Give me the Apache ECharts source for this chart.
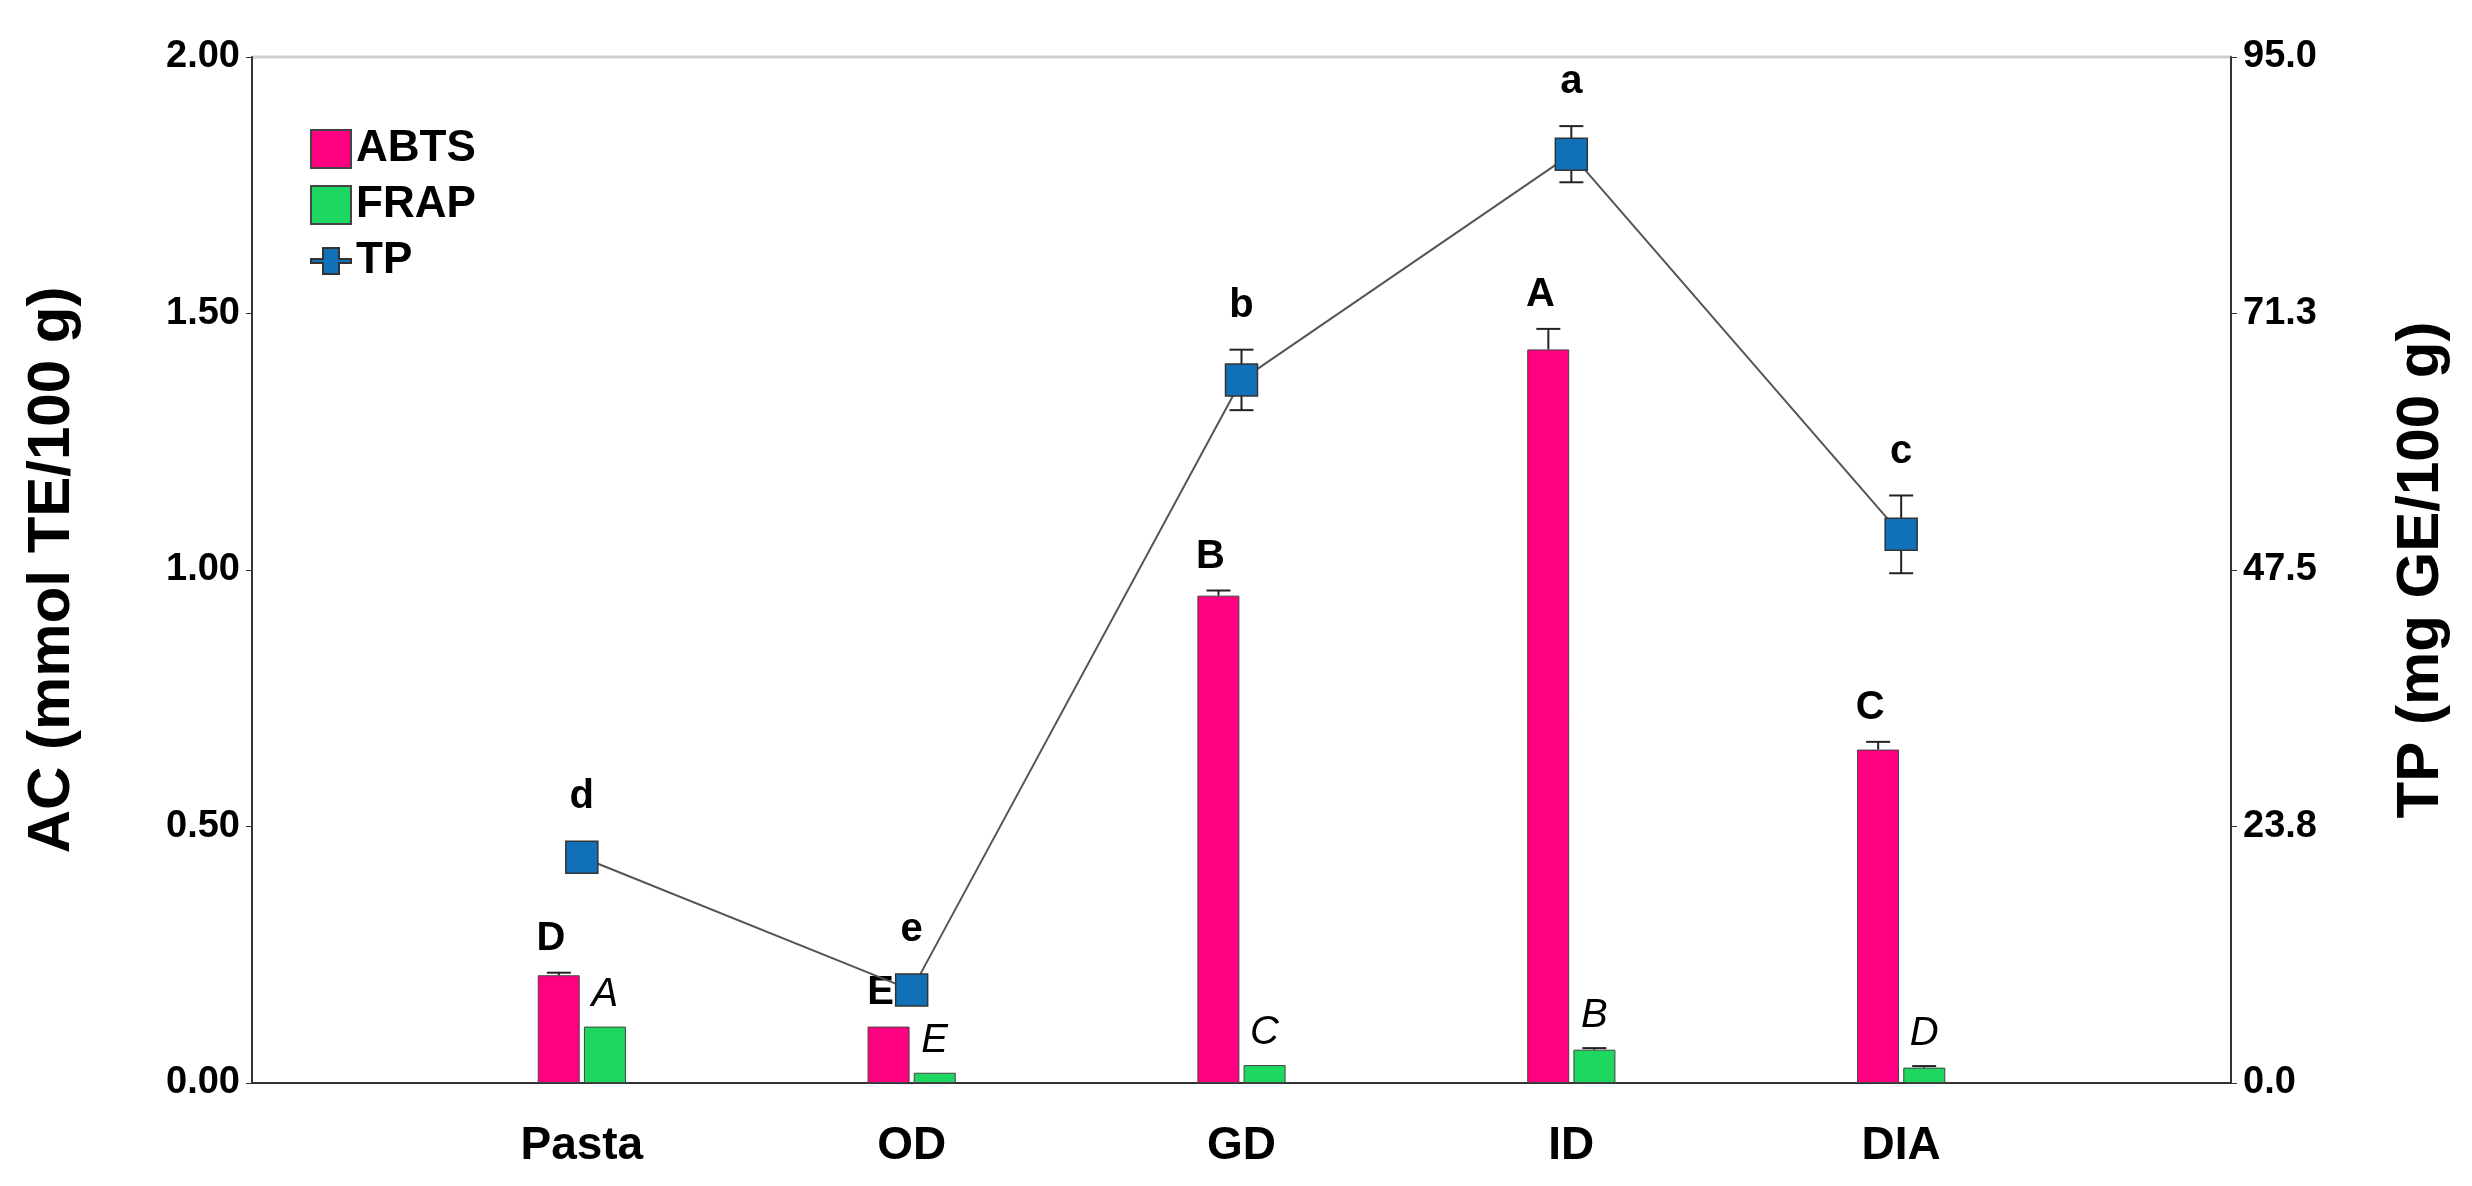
<!DOCTYPE html>
<html><head><meta charset="utf-8">
<script src="https://cdn.jsdelivr.net/npm/echarts@6/dist/echarts.min.js"></script>
<style>html,body{margin:0;padding:0;background:#fff}#c{width:2472px;height:1186px}</style>
</head><body><div id="c"></div>
<script>
const categories = ['Pasta', 'OD', 'GD', 'ID', 'DIA'];
const abts = [0.21, 0.11, 0.95, 1.43, 0.65];
const abtsErr = [0.005, 0.0, 0.01, 0.04, 0.015];
const abtsLetters = ['D', 'E', 'B', 'A', 'C'];
const frap = [0.11, 0.02, 0.035, 0.065, 0.03];
const frapErr = [0.0, 0.0, 0.0, 0.003, 0.003];
const frapLetters = ['A', 'E', 'C', 'B', 'D'];
const tp = [20.9, 8.6, 65.1, 86.0, 50.8];
const tpErr = [0.6, 0.6, 2.8, 2.6, 3.6];
const tpLetters = ['d', 'e', 'b', 'a', 'c'];
const rightMax = 95;

const cats = [''].concat(categories, ['']);
const pad = a => ['-'].concat(a, ['-']);
const F = 'Arial, "Liberation Sans", sans-serif';

function errSeries(vals, errs, letters, axisIdx, dx, italic, bold, gapAbove, ldx) {
  const data = vals.map((v, i) => [i + 1, v, errs[i], letters[i]]);
  return {
    type: 'custom', yAxisIndex: axisIdx, z: 10, silent: true,
    data: data,
    renderItem: function (params, api) {
      const x = api.value(0), v = api.value(1), e = api.value(2);
      const p = api.coord([x, v]);
      const hi = api.coord([x, v + e]);
      const lo = api.coord([x, v - e]);
      const cx = p[0] + dx;
      const children = [];
      if (e > 0) {
        const w = 12;
        const loY = axisIdx === 1 ? lo[1] : p[1];
        children.push({type: 'line', shape: {x1: cx, y1: hi[1], x2: cx, y2: loY}, style: {stroke: '#222', lineWidth: 2}});
        children.push({type: 'line', shape: {x1: cx - w, y1: hi[1], x2: cx + w, y2: hi[1]}, style: {stroke: '#222', lineWidth: 2}});
        if (axisIdx === 1) children.push({type: 'line', shape: {x1: cx - w, y1: lo[1], x2: cx + w, y2: lo[1]}, style: {stroke: '#222', lineWidth: 2}});
      }
      const extra = (axisIdx === 1 && e < 1) ? 10 : 0;
      children.push({type: 'text', x: cx + (ldx || 0), y: hi[1] - gapAbove - extra, style: {
        text: api.value(3), fill: '#000', font: (italic ? 'italic ' : '') + (bold ? 'bold ' : '') + '40px ' + F,
        align: 'center', verticalAlign: 'bottom'}});
      return {type: 'group', children: children};
    }
  };
}

const chart = echarts.init(document.getElementById('c'));
chart.setOption({
  animation: false,
  backgroundColor: '#fff',
  grid: {left: 252, right: 241, top: 57, bottom: 103},
  legend: {
    orient: 'vertical', left: 305, top: 122, itemGap: 12, itemWidth: 40, itemHeight: 38,
    textStyle: {fontFamily: F, fontSize: 44, fontWeight: 'bold', color: '#000'},
    data: [{name: 'ABTS', icon: 'rect'}, {name: 'FRAP', icon: 'rect'},
      {name: 'TP', icon: 'path://M0,17H12V6H28V17H40V21H28V32H12V21H0Z'}]
  },
  xAxis: {
    type: 'category', data: cats, boundaryGap: false,
    axisLine: {lineStyle: {color: '#333', width: 2}},
    axisTick: {show: false},
    axisLabel: {fontFamily: F, fontSize: 46, fontWeight: 'bold', color: '#000', margin: 40}
  },
  yAxis: [{
    type: 'value', min: 0, max: 2, interval: 0.5,
    name: 'AC (mmol TE/100 g)', nameLocation: 'middle', nameGap: 170, nameRotate: 90,
    nameTextStyle: {fontFamily: F, fontSize: 60, fontWeight: 'bold', color: '#000'},
    axisLine: {show: true, lineStyle: {color: '#333', width: 2}},
    axisTick: {show: true, length: 6, lineStyle: {color: '#333'}},
    splitLine: {show: false},
    axisLabel: {fontFamily: F, fontSize: 38, fontWeight: 'bold', color: '#000', margin: 12,
      formatter: v => v.toFixed(2)}
  }, {
    type: 'value', min: 0, max: rightMax, interval: rightMax / 4,
    name: 'TP (mg GE/100 g)', nameLocation: 'middle', nameGap: 160, nameRotate: 90,
    nameTextStyle: {fontFamily: F, fontSize: 60, fontWeight: 'bold', color: '#000'},
    axisLine: {show: true, lineStyle: {color: '#333', width: 2}},
    axisTick: {show: true, length: 6, lineStyle: {color: '#333'}},
    splitLine: {show: false},
    axisLabel: {fontFamily: F, fontSize: 38, fontWeight: 'bold', color: '#000', margin: 12,
      formatter: v => v.toFixed(1)}
  }],
  graphic: [{type: 'line', shape: {x1: 252, y1: 57, x2: 2231, y2: 57}, style: {stroke: '#cfcfcf', lineWidth: 3}}],
  series: [
    {name: 'ABTS', type: 'bar', data: pad(abts), barWidth: 42, barGap: '10%',
     itemStyle: {color: '#ff0080', borderColor: '#444', borderWidth: 1}},
    {name: 'FRAP', type: 'bar', data: pad(frap), barWidth: 42,
     itemStyle: {color: '#1ed760', borderColor: '#444', borderWidth: 1}},
    {name: 'TP', type: 'line', yAxisIndex: 1, data: pad(tp), connectNulls: false,
     symbol: 'rect', symbolSize: 32, z: 20,
     lineStyle: {color: '#555', width: 2},
     itemStyle: {color: '#1070b8', borderColor: '#333', borderWidth: 1.5}},
    errSeries(abts, abtsErr, abtsLetters, 0, -23, false, true, 14, -8),
    errSeries(frap, frapErr, frapLetters, 0, 23, true, false, 12, 0),
    errSeries(tp, tpErr, tpLetters, 1, 0, false, true, 24, 0)
  ]
});
</script></body></html>
